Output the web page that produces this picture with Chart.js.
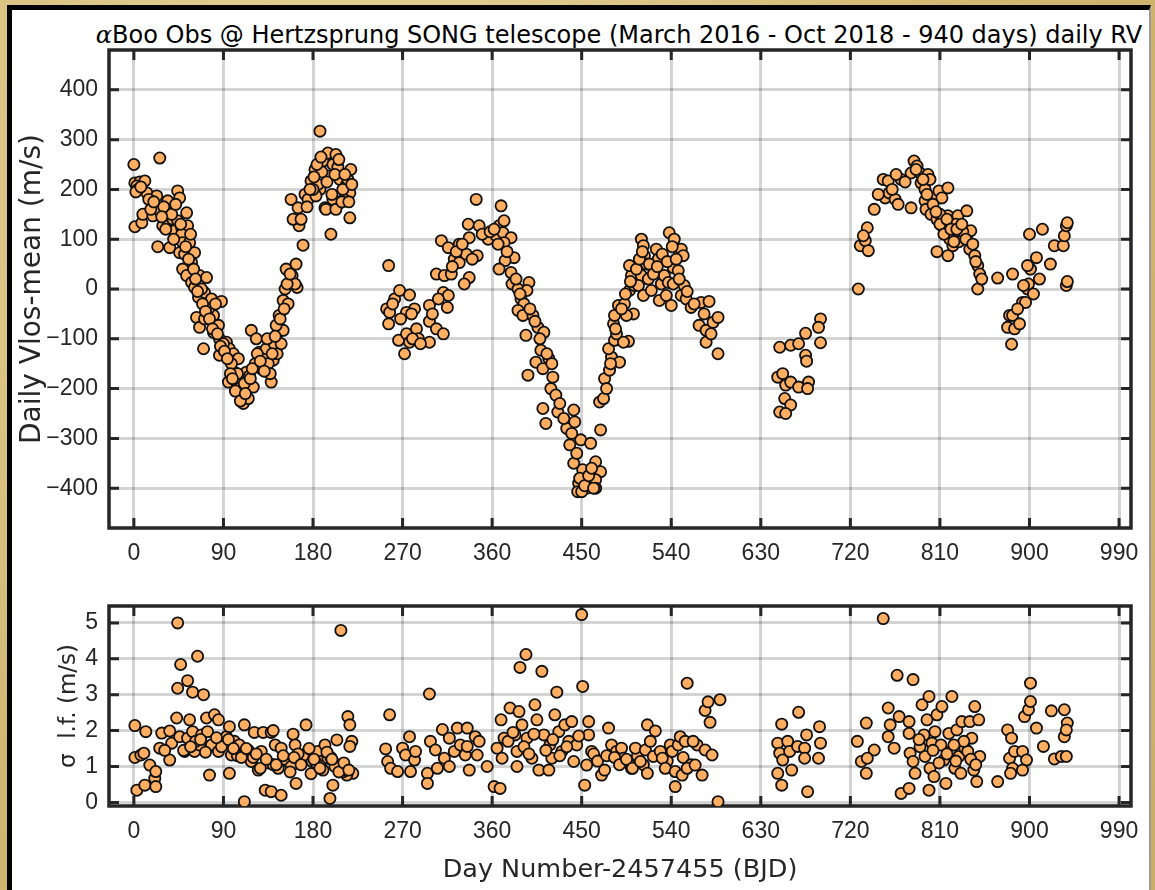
<!DOCTYPE html>
<html>
<head>
<meta charset="utf-8">
<script src="https://cdn.jsdelivr.net/npm/chart.js@4.4.1/dist/chart.umd.min.js"></script>
<style>
  body { margin: 0; width: 1155px; height: 890px; overflow: hidden; position: relative;
         background: #d9c385; background-image: radial-gradient(circle at 30% 20%, #e6d49c 0, #d2b873 60%, #c9ad66 100%); }
  #frame { position: absolute; left: 7px; top: 5px; width: 1137px; height: 890px;
           background: #fff; border-left: 5px solid #000; border-top: 5px solid #000; border-right: 2px solid #9a9a9a; }
  canvas { position: absolute; left: 0; }
  #rvChart { top: 0; }
  #sigChart { top: 580px; }
  #title { position: absolute; left: 0; width: 1238px; top: 23px; text-align: center; white-space: nowrap;
           font: 24px "DejaVu Sans", sans-serif; color: #000; line-height: 24px; }
  #title i { font-family: "DejaVu Serif", serif; }
</style>
</head>
<body>
<div id="frame"></div>
<div id="title"><i>α</i>Boo Obs @ Hertzsprung SONG telescope (March 2016 - Oct 2018 - 940 days) daily RV</div>
<canvas id="rvChart" width="1155" height="575"></canvas>
<canvas id="sigChart" width="1155" height="310"></canvas>
<script>
// Day ticks shared by both panels
const dayTicks = [0, 90, 180, 270, 360, 450, 540, 630, 720, 810, 900, 990];
const rvTicks = [-400, -300, -200, -100, 0, 100, 200, 300, 400];
const sigTicks = [0, 1, 2, 3, 4, 5];

// Daily RV (m/s) vs day number
const rvDay = [
  0, 26, 1, 6, 11, 3, 13, 23, 1, 8, 9, 19, 26, 24, 36, 34, 36, 44, 46, 29, 34, 39, 41, 44, 48, 53, 54, 48, 49, 56,
  46, 51, 61, 58, 49, 53, 58, 66, 73, 61, 65, 71, 78, 88, 63, 66, 71, 80, 85, 70, 80, 86, 86, 93, 96, 100, 105, 95,
  101, 103, 106, 108, 110, 115, 120, 113, 118, 123, 126, 130, 133, 140, 138, 141, 145, 150, 143, 146, 150, 152, 153,
  159, 164, 163, 170, 166, 160, 158, 165, 172, 175, 178, 182, 187, 187, 190, 195, 203, 197, 192, 198, 207, 213, 218,
  217, 217, 207, 200, 183, 193, 211, 203,
  4, 15, 30, 38, 42, 57, 60, 68, 75, 82, 90, 98, 104, 111, 116, 122, 128, 135, 137, 144, 148, 155, 162, 185, 189,
  200, 210, 215, 205, 180,
  2, 7, 17, 20, 28, 32, 40, 47, 52, 55, 62, 64, 69, 72, 76, 79, 84, 87, 91, 94, 97, 99, 102, 107, 112, 117, 119, 124,
  127, 131, 134, 139, 142, 147, 151, 154, 157, 168, 174, 177, 181, 184, 188, 194, 199, 202, 206, 209, 212, 216, 219,
  256, 254, 257, 256, 262, 267, 277, 282, 274, 279, 266, 272, 274, 277, 284, 286, 297, 297, 304, 297, 311, 309, 316,
  304, 312, 311, 316, 315, 319, 327, 322, 327, 334, 337, 332, 336, 347, 344, 337, 345, 356, 364, 367, 369, 372, 371,
  379, 372, 382, 373, 367, 379, 380, 386, 397, 395, 389, 392, 386, 391, 401, 406, 394, 412, 409, 404, 417, 396, 411,
  421, 419, 424, 426, 411, 414, 442, 435, 443, 438, 449, 459, 469, 442, 451, 464, 469, 447, 455, 464, 446, 450, 464,
  260, 268, 280, 288, 300, 306, 320, 324, 330, 340, 350, 358, 362, 366, 375, 384, 388, 398, 403, 408, 415, 420, 428,
  432, 440, 445, 448, 453, 457, 460, 462,
  468, 472, 473, 478, 480, 477, 488, 483, 485, 482, 483, 487, 493, 497, 492, 502, 495, 498, 503, 500, 498, 510, 512,
  513, 515, 510, 507, 512, 517, 520, 523, 525, 527, 530, 528, 533, 537, 540, 535, 538, 543, 547, 550, 552, 542, 547,
  542, 553, 550, 555, 560, 570, 578, 568, 575, 575, 582, 587, 587,
  475, 479, 484, 490, 494, 499, 505, 508, 511, 518, 522, 526, 531, 536, 541, 545, 548, 556, 563, 573, 580,
  649, 660, 668, 675, 690, 688, 690, 675, 676, 647, 652, 655, 660, 668, 678, 677, 654, 660, 649, 655,
  728, 730, 735, 737, 738, 733, 744, 753, 755, 758, 759, 765, 768, 771, 766, 781, 781, 784, 787, 790, 791, 795, 798,
  800, 795, 796, 801, 804, 809, 812, 818, 807, 812, 818, 823, 828, 837, 807, 818, 823, 826, 831, 837, 841, 840, 845,
  848, 850, 848, 868, 883, 880, 878, 885, 882, 883, 893, 896, 898, 899, 894, 901, 898, 907, 900, 913, 921, 925, 934,
  935, 937, 938, 937, 938, 815, 820, 826, 833, 810, 829,
  748, 762, 775, 786, 793, 797, 803, 806, 810, 814, 817, 821, 824, 827, 832, 836, 843, 846, 852, 888, 890, 904, 910
];
const rvVal = [
  250, 263, 213, 215, 217, 207, 193, 187, 125, 133, 150, 147, 157, 85, 83, 177, 157, 197, 183, 127, 127, 140, 117, 137,
  123, 153, 127, 110, 93, 93, 73, 70, 73, 53, 40, 27, 13, 27, 23, 3, -17, -7, -20, -25, -57, -77, -60, -53, -73, -120,
  -87, -100, -133, -107, -120, -130, -140, -187, -167, -187, -200, -213, -230, -220, -197, -167, -83, -100, -127, -140,
  -120, -143, -187, -110, -87, -83, -73, -53, -23, 0, 40, 27, 3, 50, 88, 127, 140, 180, 163, 190, 180, 217, 240, 317,
  200, 257, 273, 270, 227, 163, 110, 220, 207, 240, 193, 143, 173, 180, 187, 160, 180, 160,
  200, 180, 165, 150, 170, 110, 40, 0, -40, -30, -110, -150, -170, -190, -175, -150, -160, -150, -170, -130, -110, -30,
  10, 210, 235, 250, 200, 220, 245, 200,
  195, 205, 160, 175, 145, 120, 100, 130, 85, 60, 20, -5, -30, -45, -60, -80, -90, -115, -125, -140, -170, -180, -205,
  -225, -210, -180, -160, -130, -145, -165, -100, -130, -95, -60, -40, 10, 30, 140, 165, 200, 225, 250, 265, 215, 190,
  230, 260, 175, 230, 175, 210,
  47, -40, -47, -70, -20, -3, -12, -40, -47, -50, -103, -130, -90, -107, -80, -100, -33, -65, -80, -107, -90, 97, 83,
  30, 27, -7, -13, -37, 30, 90, 60, 53, 70, 23, 10, 130, 127, 180, 103, 67, 100, 107, 127, 167, 137, 113, 103, 93, 63,
  57, 40, 33, 10, 0, 13, -3, -20, -30, -43, -53, -53, -77, -93, -87, -123, -147, -140, -173, -160, -177, -200, -213,
  -247, -240, -270, -243, -280, -267, -313, -303, -310, -283, -350, -363, -347, -367, -390, -400, -383, -407, -407,
  -400,
  -30, -60, -100, -110, -50, -20, 45, 75, 90, 60, 110, 115, 120, 90, 75, 20, -10, -40, -65, -100, -130, -150, -230,
  -260, -290, -330, -380, -395, -375, -360, -400,
  -227, -220, -180, -163, -137, -120, -147, -103, -90, -70, -53, -33, -30, -105, -107, -50, -53, -3, 7, 27, 47, 100,
  87, 67, 50, 27, 7, -13, 20, -3, 40, 80, 60, 10, -23, 27, 13, -33, -13, 113, 100, 80, 80, 67, 43, 37, 10, 7, -13,
  -20, -37, -27, -25, -73, -83, -107, -67, -57, -130,
  -200, -150, -80, -40, -10, 15, 40, 60, 75, 50, 30, 45, 70, 55, 85, 60, 20, -5, -30, -50, -90,
  -117, -113, -110, -89, -60, -77, -108, -133, -145, -177, -170, -193, -187, -197, -187, -200, -220, -233, -247, -250,
  0, 87, 97, 123, 77, 107, 160, 220, 183, 217, 193, 180, 170, 220, 230, 163, 233, 257, 247, 233, 213, 200, 230, 220,
  177, 160, 150, 183, 197, 183, 203, 140, 127, 147, 137, 147, 157, 75, 67, 87, 100, 110, 107, 117, 80, 67, 47, 30, 0,
  22, 30, -53, -77, -80, -111, -53, -27, -27, 0, 10, 7, 40, 47, 63, 110, 120, 50, 87, 87, 107, 127, 133, 7, 15,
  120, 100, 130, 115, 150, 95,
  190, 200, 215, 240, 220, 190, 170, 155, 130, 110, 140, 120, 95, 120, 130, 100, 90, 55, 20, -40, -70, -10, 20
];

// Sigma of the daily mean (m/s) vs day number
const sigDay = [
  44, 64, 47, 54, 44, 59, 70, 208, 1, 12, 1, 7, 10, 16, 3, 11, 21, 22, 22, 26, 28, 36, 36, 38, 43, 46, 51, 56, 54, 59,
  61, 66, 68, 73, 74, 76, 81, 85, 78, 85, 90, 93, 96, 98, 96, 101, 106, 111, 110, 111, 118, 121, 130, 128, 132, 138,
  140, 142, 138, 148, 148, 155, 160, 162, 163, 167, 173, 175, 179, 185, 188, 192, 197, 195, 200, 204, 205, 209, 212,
  215, 217, 219, 217, 220, 214,
  62, 88, 104, 115, 125, 135, 145, 152, 158, 170, 183, 190, 198, 210, 50, 95, 120, 140, 165, 178, 202, 213,
  57, 67, 72, 83, 100, 108, 113, 123, 127, 133, 143, 150, 157, 161, 168, 176, 181, 187, 194, 199, 206, 211, 216, 31,
  257, 253, 255, 258, 265, 270, 273, 277, 278, 282, 283, 297, 295, 295, 298, 303, 305, 310, 312, 317, 317, 322, 325,
  328, 333, 335, 337, 335, 343, 347, 345, 355, 362, 368, 365, 369, 372, 370, 378, 387, 383, 385, 385, 388, 394, 390,
  395, 400, 403, 405, 410, 407, 412, 417, 418, 420, 423, 425, 427, 430, 433, 437, 440, 442, 445, 450, 451, 453, 455,
  457, 457, 460, 470, 473, 477, 480, 485, 490, 492, 497, 500,
  376, 381, 392, 397, 402, 414, 421, 428, 435, 447, 462, 466, 475, 483, 488, 495, 506, 512, 527, 536, 552, 560, 566,
  501, 504, 509, 514, 516, 516, 524, 519, 522, 529, 531, 534, 539, 541, 544, 544, 547, 549, 551, 554, 556, 562, 564,
  571, 574, 581, 556, 574, 577, 579, 589, 587,
  647, 649, 647, 651, 651, 652, 657, 659, 661, 667, 668, 674, 676, 674, 677, 689, 690, 688,
  753, 727, 731, 736, 736, 744, 737, 767, 783, 758, 760, 758, 764, 769, 771, 779, 779, 779, 780, 783, 785, 792, 794,
  795, 797, 799, 800, 802, 804, 799, 807, 805, 811, 812, 814, 816, 819, 822, 821, 825, 827, 829, 831, 832, 835, 838,
  840, 842, 844, 845, 847, 849, 850, 868, 878, 882, 880, 885, 883, 881, 893, 897, 893, 895, 899, 901, 901, 907, 914,
  922, 925, 932, 937, 935, 938, 935, 937,
  790, 809, 817, 826, 834, 841, 846, 803, 824, 789
];
const sigVal = [
  5.0, 4.07, 3.84, 3.39, 3.18, 3.07, 3.0, 4.79, 2.14, 1.97, 1.25, 1.32, 1.37, 1.04, 0.34, 0.48, 0.67, 0.44, 0.86, 1.51,
  1.93, 1.99, 1.18, 1.65, 2.35, 1.83, 1.42, 2.3, 1.79, 1.97, 1.42, 1.6, 1.88, 2.35, 1.97, 0.76, 2.44, 2.3, 1.6, 1.42,
  1.7, 1.83, 2.11, 1.32, 0.81, 1.7, 1.6, 2.16, 1.37, 0.02, 1.14, 1.95, 1.95, 1.42, 0.34, 1.95, 2.0, 1.6, 0.3, 1.51,
  0.2, 1.14, 1.9, 1.6, 0.53, 1.28, 2.16, 1.42, 1.14, 1.42, 1.14, 1.6, 0.11, 1.23, 0.48, 1.74, 1.04, 0.86, 0.95, 2.39,
  2.16, 1.7, 1.56, 0.81, 0.76,
  1.7, 1.55, 1.3, 1.45, 0.9, 1.1, 0.95, 1.2, 1.0, 1.3, 1.1, 0.9, 1.25, 0.85, 1.45, 1.75, 1.25, 1.05, 1.35, 0.8, 1.0,
  0.9,
  1.55, 1.75, 1.4, 1.8, 1.5, 1.25, 1.5, 1.35, 0.95, 1.2, 1.05, 1.3, 0.85, 1.25, 1.05, 1.5, 1.2, 0.95, 1.4, 1.2, 0.85,
  1.1, 0.9, 1.45,
  2.44, 1.49, 1.14, 0.95, 0.86, 1.51, 1.32, 1.83, 0.86, 1.18, 1.42, 3.02, 0.81, 0.53, 1.7, 1.46, 0.95, 2.03, 1.23,
  1.79, 1.0, 1.42, 2.07, 1.6, 1.32, 2.07, 0.9, 1.56, 1.83, 1.7, 1.32, 1.0, 0.44, 0.39, 1.51, 2.3, 1.79, 1.23, 2.63,
  2.53, 1.88, 1.42, 1.0, 3.76, 4.12, 2.16, 1.79, 1.23, 2.72, 2.3, 3.65, 0.9, 1.88, 0.9, 1.6, 1.23, 2.44, 3.07, 1.97,
  1.42, 2.16, 1.7, 2.25, 1.14, 1.6, 5.23, 3.23, 0.48, 1.04, 2.25, 1.88, 1.42, 0.76, 0.9, 2.07, 1.6, 1.42, 1.51, 1.23,
  1.09, 0.95,
  1.7, 1.95, 1.55, 1.35, 1.9, 1.45, 1.75, 1.3, 1.55, 1.85, 1.35, 1.15, 1.3, 1.25, 1.05, 1.2, 1.3, 1.05, 1.35, 1.15,
  1.25, 1.05, 1.6,
  0.95, 1.51, 1.14, 1.46, 0.81, 2.16, 1.99, 1.7, 1.28, 1.42, 1.23, 0.95, 1.6, 1.42, 0.86, 0.44, 1.6, 1.83, 0.76, 1.7,
  0.95, 1.7, 1.04, 0.76, 1.46, 1.32, 3.32, 2.56, 2.8, 2.23, 2.86, 0.02,
  1.65, 1.37, 0.81, 0.48, 2.18, 1.18, 1.7, 1.42, 0.9, 1.56, 2.51, 1.51, 1.88, 1.23, 0.3, 2.11, 1.65, 1.23,
  5.12, 1.7, 1.14, 2.21, 0.81, 1.46, 1.23, 3.54, 3.42, 2.63, 2.16, 1.83, 1.51, 2.39, 0.25, 0.39, 2.25, 1.92, 1.37,
  1.14, 0.81, 2.72, 1.88, 1.28, 2.3, 2.95, 0.95, 1.65, 0.72, 0.34, 2.44, 1.97, 1.6, 2.67, 1.18, 0.53, 1.92, 2.95,
  1.42, 0.95, 2.02, 1.28, 0.81, 2.25, 1.51, 1.42, 2.25, 1.79, 0.9, 2.67, 0.58, 2.3, 1.28, 0.58, 2.02, 1.79, 1.23,
  1.42, 0.95, 0.81, 1.42, 1.18, 0.9, 2.39, 2.58, 2.81, 3.32, 2.07, 1.56, 2.55, 1.21, 1.28, 1.28, 2.58, 2.21, 1.83,
  2.02,
  1.55, 1.1, 1.35, 1.15, 1.7, 1.2, 1.05, 1.45, 1.6, 1.75
];

const FONT = '"Liberation Sans", Arial, sans-serif';
const LABEL_FONT = '"DejaVu Sans", sans-serif';
const TEXT = '#262626';

// Box round the plot area with MATLAB-like inward ticks
const boxPlugin = {
  id: 'boxPlugin',
  beforeDatasetsDraw(chart) {
    const { ctx, chartArea: a, scales } = chart;
    ctx.save();
    ctx.strokeStyle = TEXT;
    ctx.lineWidth = 3;
    ctx.beginPath();
    scales.x.ticks.forEach(t => {
      const px = scales.x.getPixelForValue(t.value);
      ctx.moveTo(px, a.bottom); ctx.lineTo(px, a.bottom - 10);
      ctx.moveTo(px, a.top); ctx.lineTo(px, a.top + 10);
    });
    scales.y.ticks.forEach(t => {
      const py = scales.y.getPixelForValue(t.value);
      ctx.moveTo(a.left, py); ctx.lineTo(a.left + 10, py);
      ctx.moveTo(a.right, py); ctx.lineTo(a.right - 10, py);
    });
    ctx.stroke();
    ctx.lineWidth = 3.5;
    ctx.strokeRect(a.left, a.top, a.right - a.left, a.bottom - a.top);
    ctx.restore();
  }
};

function toPoints(xs, ys) {
  return xs.map((d, i) => ({ x: d, y: ys[i] }));
}

// MATLAB prints a real minus sign on negative ticks
function minusLabel(v) {
  return String(v).replace('-', '\u2212');
}

function makeChart(id, xs, ys, opts) {
  const ctx = document.getElementById(id).getContext('2d');
  return new Chart(ctx, {
    type: 'scatter',
    data: {
      datasets: [{
        data: toPoints(xs, ys),
        backgroundColor: '#ffae62',
        borderColor: '#111',
        borderWidth: 1.8,
        pointRadius: 5.6,
        pointHoverRadius: 5.6
      }]
    },
    options: {
      responsive: false,
      animation: false,
      events: [],
      layout: { padding: { top: opts.padTop, right: 24, left: 0, bottom: 0 } },
      plugins: { legend: { display: false }, tooltip: { enabled: false } },
      scales: {
        x: {
          type: 'linear',
          min: -25, max: 1002,
          afterBuildTicks: s => { s.ticks = dayTicks.map(v => ({ value: v })); },
          afterFit: s => { s.height = opts.xHeight; },
          grid: { color: 'rgba(0,0,0,0.17)', lineWidth: 3, drawTicks: false },
          border: { display: false },
          ticks: { color: TEXT, font: { family: FONT, size: 23 }, padding: 12, maxRotation: 0 },
          title: opts.xTitle ? {
            display: true, text: opts.xTitle, color: TEXT,
            font: { family: LABEL_FONT, size: 25.5 }, padding: { top: 0, bottom: 4 }
          } : { display: false }
        },
        y: {
          type: 'linear',
          min: opts.yMin, max: opts.yMax,
          afterBuildTicks: s => { s.ticks = opts.yTicks.map(v => ({ value: v })); },
          afterFit: s => { s.width = 109; },
          grid: { color: 'rgba(0,0,0,0.17)', lineWidth: 3, drawTicks: false },
          border: { display: false },
          ticks: { color: TEXT, font: { family: FONT, size: 23 }, padding: 11, callback: minusLabel },
          title: {
            display: true, text: opts.yTitle, color: TEXT,
            font: { family: LABEL_FONT, size: opts.yTitleSize }, padding: { top: opts.yTitlePad, bottom: 0 }
          }
        }
      }
    },
    plugins: [boxPlugin]
  });
}

makeChart('rvChart', rvDay, rvVal, {
  padTop: 50, xHeight: 47, yMin: -480, yMax: 480, yTicks: rvTicks,
  yTitle: 'Daily Vlos-mean (m/s)', yTitleSize: 28, yTitlePad: 16
});
makeChart('sigChart', sigDay, sigVal, {
  padTop: 26, xHeight: 84, yMin: -0.1, yMax: 5.47, yTicks: sigTicks,
  yTitle: 'σ  l.f. (m/s)', yTitleSize: 23, yTitlePad: 55, xTitle: 'Day Number-2457455 (BJD)'
});
</script>
</body>
</html>
